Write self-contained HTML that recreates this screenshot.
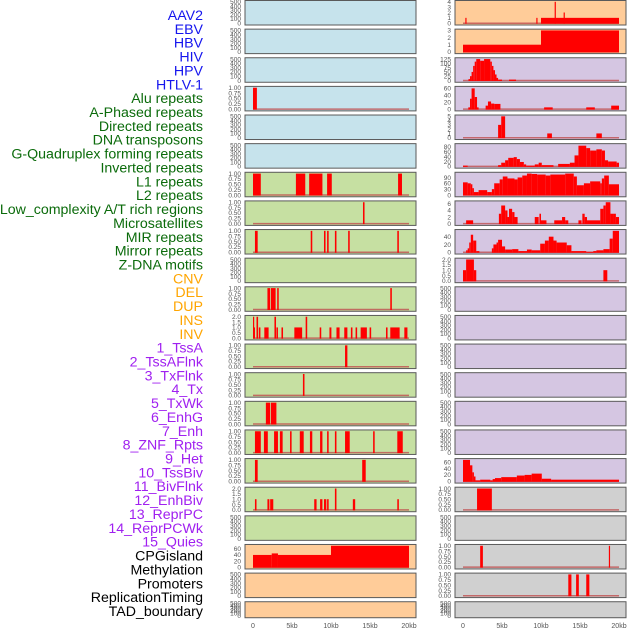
<!DOCTYPE html>
<html><head><meta charset="utf-8"><style>
html,body{margin:0;padding:0;background:#fff;width:630px;height:630px;overflow:hidden}
svg{display:block;font-family:"Liberation Sans",sans-serif}
</style></head><body>
<svg id="chart" width="630" height="630" viewBox="0 0 630 630"></svg>
<script>
const trackLabels=["AAV2","EBV","HBV","HIV","HPV","HTLV-1","Alu repeats","A-Phased repeats","Directed repeats","DNA transposons","G-Quadruplex forming repeats","Inverted repeats","L1 repeats","L2 repeats","Low_complexity A/T rich regions","Microsatellites","MIR repeats","Mirror repeats","Z-DNA motifs","CNV","DEL","DUP","INS","INV","1_TssA","2_TssAFlnk","3_TxFlnk","4_Tx","5_TxWk","6_EnhG","7_Enh","8_ZNF_Rpts","9_Het","10_TssBiv","11_BivFlnk","12_EnhBiv","13_ReprPC","14_ReprPCWk","15_Quies","CPGisland","Methylation","Promoters","ReplicationTiming","TAD_boundary"];
const labelColors=[].concat(Array(6).fill("#1515ee"),Array(13).fill("#0b6b0b"),Array(5).fill("#ffa500"),Array(15).fill("#a020f0"),Array(5).fill("#000"));
const xTickValues=[0,5,10,15,20];
const xTickLabels=["0","5kb","10kb","15kb","20kb"];
const E=[0,100,200,300,400,500], B=[0,0.25,0.5,0.75,1], T2=[0,0.5,1,1.5,2];
const BL="#c6e3ec",GR="#c6e0a2",PE="#ffcc99",LV="#d5c6e2",GY="#d0d0d0";
const leftBgs=[BL,BL,BL,BL,BL,BL,GR,GR,GR,GR,GR,GR,GR,GR,GR,GR,GR,GR,GR,PE,PE,PE];
const rightBgs=[PE,PE,LV,LV,LV,LV,LV,LV,LV,LV,LV,LV,LV,LV,LV,LV,LV,GY,GY,GY,GY,GY];
const leftTicks=[E,E,E,B,E,E,B,B,B,E,B,T2,B,B,B,B,B,T2,E,[0,20,40,60],E,E];
const rightTicks=[[0,1,2,3,4],[0,1,2,3],[0,25,50,75,100,125],[0,20,40,60],[0,1,2,3,4,5],[0,20,40,60,80],[0,30,60,90],[0,2,4,6],[0,20,40],T2,E,E,E,E,E,E,[0,20,40,60],B,E,B,B,E];
const leftYmax=[500,500,500,1,500,500,1,1,1,500,1,2,1,1,1,1,1,2,500,70,500,500];
const rightYmax=[4,3,125,62,5,88,110,6.5,55,2,500,500,500,500,500,500,67,1,500,1,1,500];
const leftBars=[[],[],[],[[0,0.5,1]],[],[],
[[0,1,1],[5.5,6.7,1],[7.2,8.9,1],[9.5,10.1,1],[18.6,19.1,1]],
[[14.1,14.3,1]],
[[0.25,0.6,1],[7.4,7.6,1],[9.1,9.3,1],[9.5,9.7,1],[10.5,10.7,1],[12.2,12.4,1],[18.5,18.7,1]],
[],
[[1.85,2.2,1],[2.3,2.9,1],[3.1,3.3,1],[17.6,17.8,1]],
[[0,0.15,2],[0.1,0.25,1],[0.45,0.65,2],[0.75,0.95,1],[1.45,2.0,1],[2.75,2.95,2],[3.0,3.2,1],[3.65,3.85,1],[5.3,6.3,1],[6.75,6.95,2],[8.55,8.75,1],[9.8,10.05,1],[10.7,11.1,1],[11.7,12.1,1],[12.55,12.75,1],[13.15,13.35,1],[13.8,14.6,1],[14.95,15.15,1],[17.05,17.25,1],[17.6,18.8,1],[19.4,19.8,1]],
[[11.8,12.1,1]],[[6.4,6.6,1]],[[1.65,2.2,1],[2.3,3.0,1]],
[[0.25,1.0,1],[1.4,1.9,1],[2.7,3.2,1],[3.45,3.8,1],[4.75,4.95,1],[6.0,6.5,1],[7.3,7.6,1],[8.6,8.9,1],[9.5,9.7,1],[10.5,10.7,1],[11.8,12.4,1],[15.4,15.6,1],[18.5,19.2,1]],
[[0.25,0.6,1],[14.0,14.45,1]],
[[0.25,0.45,1],[1.85,2.1,1],[2.2,2.6,1],[7.85,8.15,1],[8.6,8.9,1],[9.1,9.4,1],[9.5,9.7,1],[10.5,10.7,2],[12.8,13.1,1],[18.5,18.7,1]],
[],
[[0,2.4,40],[2.4,3.2,45],[3.2,10,40],[10,20,70]],
[],[]];
const rightBars=[
[[0.3,0.45,1],[9.4,9.55,1],[10,20,1],[11.75,11.9,4],[12.9,13.05,2]],
[[0,10,1],[10,20,3]],
[[0.7,0.9,8],[0.9,1.1,25],[1.1,1.3,50],[1.3,1.5,85],[1.5,1.7,110],[1.7,2.2,125],[2.2,2.7,115],[2.7,3.5,125],[3.5,3.7,110],[3.7,3.9,85],[3.9,4.1,60],[4.1,4.3,35],[4.3,4.5,15],[4.5,5.0,5],[5.9,6.8,5]],
[[0.68,0.9,5],[0.9,1.1,30],[1.1,1.5,60],[1.5,1.8,35],[1.8,2.0,5],[2.9,3.2,10],[3.2,3.6,22],[3.6,4.0,16],[4.0,4.8,15],[10.4,11.5,5],[15.8,16.9,5],[19.0,20,10]],
[[4.5,4.9,3],[4.9,5.4,5],[10.8,11.4,1],[17.1,17.8,1]],
[[0,0.6,3],[4.5,4.9,5],[4.9,5.4,15],[5.4,5.8,25],[5.8,6.5,35],[6.5,6.9,38],[6.9,7.3,30],[7.3,7.8,18],[7.8,8.1,8],[8.1,9.2,3],[9.2,9.7,8],[9.7,10.1,15],[10.1,11.6,5],[12.2,13.7,10],[13.7,14.3,15],[14.3,14.8,45],[14.8,15.8,85],[15.8,16.3,75],[16.3,17.1,65],[17.1,17.8,70],[17.8,18.2,65],[18.2,18.6,25],[18.6,19.7,20],[19.7,20,15]],
[[0,0.6,65],[0.6,1.0,60],[1.0,1.2,55],[1.2,1.4,35],[1.4,2.0,15],[2.0,3.1,25],[3.1,3.7,15],[3.7,4.0,30],[4.0,4.7,60],[4.7,5.1,80],[5.1,5.7,95],[5.7,6.6,85],[6.6,7.0,80],[7.0,7.6,90],[7.6,8.2,100],[8.2,8.8,110],[8.8,9.5,108],[9.5,10.6,105],[10.6,11.2,100],[11.2,13.1,105],[13.1,14.2,110],[14.2,14.6,95],[14.6,15.5,50],[15.5,16.3,60],[16.3,17.6,70],[17.6,17.8,60],[17.8,18.1,85],[18.1,18.7,100],[18.7,20,55]],
[[0.4,1.3,1],[4.6,4.9,3],[4.9,5.4,5.5],[5.4,5.7,4],[5.7,5.9,2],[5.9,6.3,4.5],[6.3,6.6,3.5],[6.6,7.0,2],[9.2,9.7,2],[9.8,10.0,3],[10.0,10.7,1],[11.7,12.7,1],[12.7,13.1,2],[13.1,13.5,1],[14.8,15.2,1],[15.3,15.6,3],[15.6,15.9,2],[15.9,17.6,1],[17.6,18.0,4.5],[18.0,18.3,5.5],[18.3,18.9,6.5],[18.9,19.3,3],[19.3,19.6,3],[19.6,20,2]],
[[0.4,0.6,5],[0.6,0.8,10],[0.8,1.0,25],[1.0,1.3,45],[1.3,1.7,30],[1.7,2.1,3],[3.7,3.9,10],[3.9,4.3,20],[4.3,4.5,25],[4.5,5.0,32],[5.0,5.4,15],[5.4,6.3,7],[6.3,7.1,8],[7.1,8.2,3],[8.2,8.8,7],[8.8,9.9,5],[9.9,10.5,22],[10.5,11.0,30],[11.0,11.6,40],[11.6,12.0,30],[12.0,13.3,25],[13.3,13.9,18],[13.9,15.8,3],[15.8,16.7,1],[16.7,17.1,3],[17.1,18.0,5],[18.0,18.8,8],[18.8,19.2,35],[19.2,20,55]],
[[0,0.4,1],[0.4,1.4,2],[1.4,1.7,1],[18.0,18.5,1]],
[],[],[],[],[],[],
[[0,0.9,67],[0.9,1.2,50],[1.2,1.4,28],[1.4,1.6,15],[1.6,2.2,3],[2.2,3.5,5],[3.5,3.8,3],[3.8,4.1,7],[4.1,4.9,10],[4.9,6.9,13],[6.9,7.9,18],[7.9,8.8,20],[8.8,10.1,24],[10.1,11.3,8],[11.3,20,5]],
[[1.8,3.7,1]],[],[[2.2,2.55,1],[18.7,18.85,1]],[[13.5,13.9,1],[14.5,14.85,1],[15.8,16.2,1]],[]];

const NS="http://www.w3.org/2000/svg";
const svg=document.getElementById("chart");
function mk(tag,attrs,parent){const e=document.createElementNS(NS,tag);for(const k in attrs)e.setAttribute(k,attrs[k]);(parent||svg).appendChild(e);return e;}
const PITCH=28.63, PH=25;
function panelTop(i){return i*PITCH;}
function panelH(i){return i===21?16.5:PH;}

trackLabels.forEach((t,i)=>{
  const el=mk("text",{x:203,y:15+i*13.86+5,"text-anchor":"end","font-size":"14.2",fill:labelColors[i]});
  el.textContent=t;
  
  
});

function drawColumn(px0,bgs,ticksArr,ymaxArr,barsArr,side){
  const zeroX=px0+8, kb=7.8;
  const xs=v=>zeroX+v*kb;
  for(let i=0;i<22;i++){
    const top=panelTop(i),h=panelH(i),bot=top+h;
    const g=mk("g",{});
    
    
    const r=mk("rect",{x:px0,y:top+0.5,width:171,height:h-0.5,fill:bgs[i],stroke:"#5a5a5a","stroke-width":1},g);
    
    
    const ymax=ymaxArr[i];
    const ys=v=>bot-1.8-(v/ymax)*(h-3.6);
    const ticks=ticksArr[i];
    const tmax=ticks[ticks.length-1];
    const yt=v=>bot-1.8-(v/tmax)*(h-3.6);
    ticks.forEach(tv=>{
      const lbl=(ticks===B)?tv.toFixed(2):(ticks===T2?tv.toFixed(1):String(tv));
      const t=mk("text",{x:px0-4,y:(ymax===tmax?yt(tv):ys(tv))+2.3,"text-anchor":"end","font-size":"6.5",fill:"#555"},g);
      t.textContent=lbl;
      
      
    });
    const bars=barsArr[i];
    if(bars.length){
      const bl=mk("line",{x1:xs(0),x2:xs(20),y1:ys(0),y2:ys(0),stroke:"#c05050","stroke-width":1.5,opacity:0.8},g);
      
      
    }
    bars.forEach(b=>{
      const y1=ys(b[2]);
      const w=Math.max(1.2,xs(b[1])-xs(b[0]));
      const br=mk("rect",{x:xs(b[0]),y:y1,width:w,height:ys(0)-y1+0.5,fill:"#ff0000"},g);
      
      
    });
  }
  xTickValues.forEach((v,j)=>{
    const t=mk("text",{x:xs(v),y:628,"text-anchor":"middle","font-size":"7",fill:"#555"});
    t.textContent=xTickLabels[j];
    
    
  });
}
drawColumn(245,leftBgs,leftTicks,leftYmax,leftBars,'left');
drawColumn(455,rightBgs,rightTicks,rightYmax,rightBars,'right');
</script>
</body></html>
